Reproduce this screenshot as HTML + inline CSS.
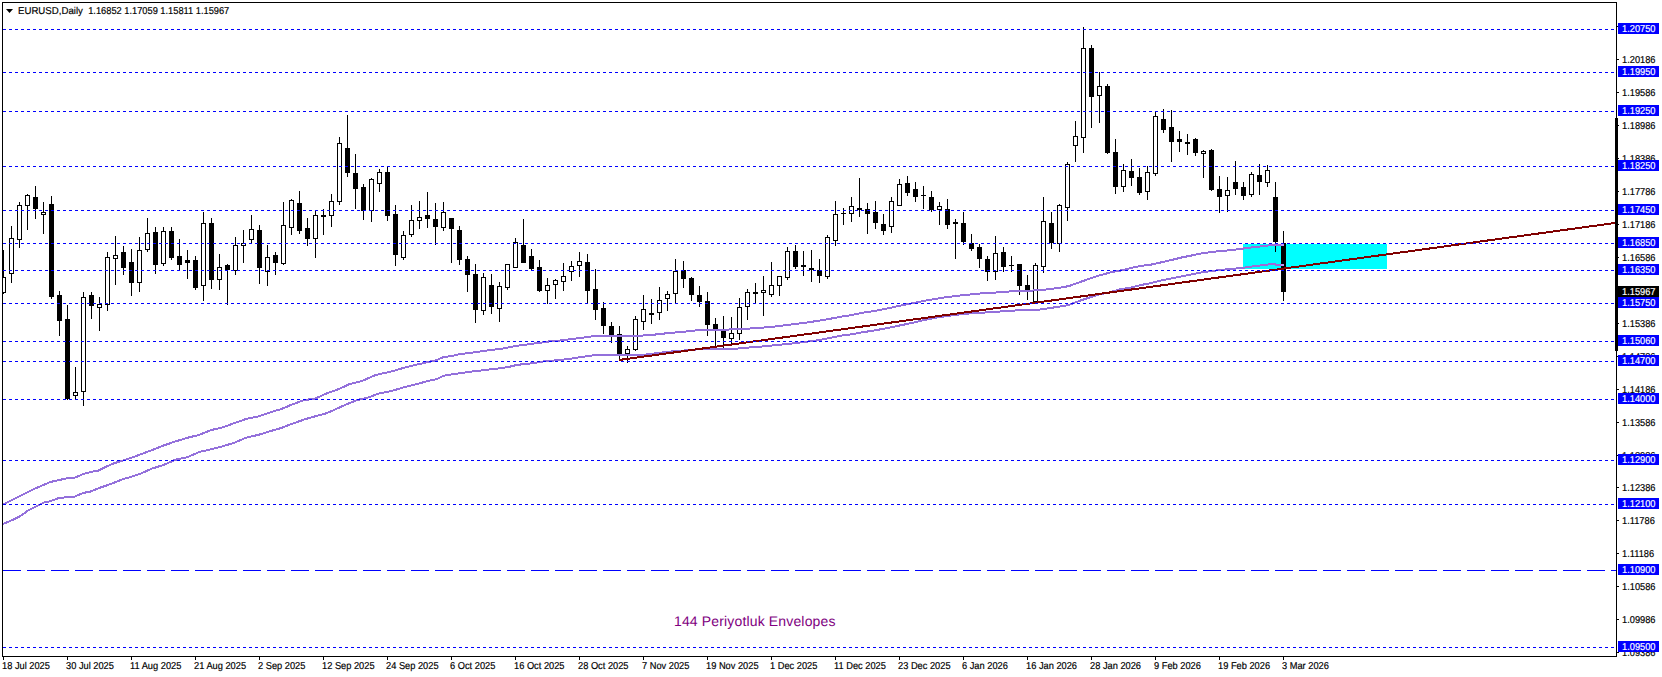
<!DOCTYPE html>
<html><head><meta charset="utf-8"><title>EURUSD Daily</title>
<style>
html,body{margin:0;padding:0;background:#fff;width:1662px;height:677px;overflow:hidden}
svg{display:block}
text{font-family:"Liberation Sans", sans-serif;text-rendering:geometricPrecision}
</style></head><body>
<svg width="1662" height="677" viewBox="0 0 1662 677">
<rect x="0" y="0" width="1662" height="677" fill="#fff"/>
<defs><clipPath id="cp"><rect x="3" y="3" width="1613" height="653"/></clipPath></defs>
<g clip-path="url(#cp)">
<rect x="1243" y="244" width="144" height="25" fill="#0ff"/>
<g fill="#000" shape-rendering="crispEdges"><rect x="3" y="250" width="1" height="44"/><rect x="1" y="277" width="5" height="16"/><rect x="2" y="278" width="3" height="14" fill="#fff"/><rect x="11" y="226" width="1" height="57"/><rect x="9" y="238" width="5" height="36"/><rect x="10" y="239" width="3" height="34" fill="#fff"/><rect x="19" y="202" width="1" height="46"/><rect x="17" y="205" width="5" height="35"/><rect x="18" y="206" width="3" height="33" fill="#fff"/><rect x="27" y="194" width="1" height="36"/><rect x="25" y="195" width="5" height="11"/><rect x="26" y="196" width="3" height="9" fill="#fff"/><rect x="35" y="186" width="1" height="33"/><rect x="33" y="197" width="5" height="12"/><rect x="43" y="202" width="1" height="32"/><rect x="41" y="212" width="5" height="3"/><rect x="42" y="213" width="3" height="1" fill="#fff"/><rect x="51" y="196" width="1" height="103"/><rect x="49" y="204" width="5" height="93"/><rect x="59" y="291" width="1" height="45"/><rect x="57" y="295" width="5" height="26"/><rect x="67" y="305" width="1" height="95"/><rect x="65" y="319" width="5" height="80"/><rect x="75" y="367" width="1" height="33"/><rect x="73" y="392" width="5" height="4"/><rect x="74" y="393" width="3" height="2" fill="#fff"/><rect x="83" y="292" width="1" height="114"/><rect x="81" y="297" width="5" height="95"/><rect x="82" y="298" width="3" height="93" fill="#fff"/><rect x="91" y="292" width="1" height="27"/><rect x="89" y="295" width="5" height="11"/><rect x="99" y="297" width="1" height="34"/><rect x="97" y="304" width="5" height="4"/><rect x="98" y="305" width="3" height="2" fill="#fff"/><rect x="107" y="252" width="1" height="59"/><rect x="105" y="257" width="5" height="48"/><rect x="106" y="258" width="3" height="46" fill="#fff"/><rect x="115" y="236" width="1" height="49"/><rect x="113" y="255" width="5" height="4"/><rect x="114" y="256" width="3" height="2" fill="#fff"/><rect x="123" y="246" width="1" height="29"/><rect x="121" y="252" width="5" height="16"/><rect x="131" y="249" width="1" height="47"/><rect x="129" y="262" width="5" height="21"/><rect x="139" y="237" width="1" height="55"/><rect x="137" y="250" width="5" height="33"/><rect x="138" y="251" width="3" height="31" fill="#fff"/><rect x="147" y="218" width="1" height="34"/><rect x="145" y="233" width="5" height="17"/><rect x="146" y="234" width="3" height="15" fill="#fff"/><rect x="155" y="227" width="1" height="47"/><rect x="153" y="232" width="5" height="33"/><rect x="163" y="227" width="1" height="39"/><rect x="161" y="231" width="5" height="33"/><rect x="162" y="232" width="3" height="31" fill="#fff"/><rect x="171" y="227" width="1" height="33"/><rect x="169" y="231" width="5" height="27"/><rect x="179" y="239" width="1" height="32"/><rect x="177" y="256" width="5" height="9"/><rect x="187" y="250" width="1" height="29"/><rect x="185" y="260" width="5" height="3"/><rect x="195" y="256" width="1" height="34"/><rect x="193" y="260" width="5" height="28"/><rect x="203" y="212" width="1" height="89"/><rect x="201" y="223" width="5" height="63"/><rect x="202" y="224" width="3" height="61" fill="#fff"/><rect x="211" y="218" width="1" height="71"/><rect x="209" y="223" width="5" height="57"/><rect x="219" y="254" width="1" height="36"/><rect x="217" y="267" width="5" height="13"/><rect x="218" y="268" width="3" height="11" fill="#fff"/><rect x="227" y="264" width="1" height="41"/><rect x="225" y="265" width="5" height="5"/><rect x="235" y="237" width="1" height="38"/><rect x="233" y="245" width="5" height="26"/><rect x="234" y="246" width="3" height="24" fill="#fff"/><rect x="243" y="230" width="1" height="33"/><rect x="241" y="243" width="5" height="3"/><rect x="242" y="244" width="3" height="1" fill="#fff"/><rect x="251" y="215" width="1" height="29"/><rect x="249" y="229" width="5" height="11"/><rect x="250" y="230" width="3" height="9" fill="#fff"/><rect x="259" y="225" width="1" height="59"/><rect x="257" y="230" width="5" height="38"/><rect x="267" y="245" width="1" height="41"/><rect x="265" y="257" width="5" height="15"/><rect x="266" y="258" width="3" height="13" fill="#fff"/><rect x="275" y="252" width="1" height="23"/><rect x="273" y="255" width="5" height="8"/><rect x="283" y="202" width="1" height="63"/><rect x="281" y="225" width="5" height="39"/><rect x="282" y="226" width="3" height="37" fill="#fff"/><rect x="291" y="199" width="1" height="36"/><rect x="289" y="200" width="5" height="28"/><rect x="290" y="201" width="3" height="26" fill="#fff"/><rect x="299" y="191" width="1" height="43"/><rect x="297" y="203" width="5" height="28"/><rect x="307" y="218" width="1" height="28"/><rect x="305" y="228" width="5" height="11"/><rect x="315" y="210" width="1" height="48"/><rect x="313" y="215" width="5" height="24"/><rect x="314" y="216" width="3" height="22" fill="#fff"/><rect x="323" y="209" width="1" height="26"/><rect x="321" y="215" width="5" height="2"/><rect x="331" y="194" width="1" height="33"/><rect x="329" y="201" width="5" height="15"/><rect x="330" y="202" width="3" height="13" fill="#fff"/><rect x="339" y="137" width="1" height="68"/><rect x="337" y="143" width="5" height="59"/><rect x="338" y="144" width="3" height="57" fill="#fff"/><rect x="347" y="115" width="1" height="62"/><rect x="345" y="148" width="5" height="25"/><rect x="355" y="154" width="1" height="55"/><rect x="353" y="173" width="5" height="16"/><rect x="363" y="184" width="1" height="36"/><rect x="361" y="187" width="5" height="24"/><rect x="371" y="178" width="1" height="44"/><rect x="369" y="179" width="5" height="32"/><rect x="370" y="180" width="3" height="30" fill="#fff"/><rect x="379" y="169" width="1" height="23"/><rect x="377" y="172" width="5" height="12"/><rect x="378" y="173" width="3" height="10" fill="#fff"/><rect x="387" y="166" width="1" height="55"/><rect x="385" y="172" width="5" height="44"/><rect x="395" y="205" width="1" height="61"/><rect x="393" y="214" width="5" height="41"/><rect x="403" y="231" width="1" height="29"/><rect x="401" y="235" width="5" height="23"/><rect x="402" y="236" width="3" height="21" fill="#fff"/><rect x="411" y="205" width="1" height="32"/><rect x="409" y="220" width="5" height="15"/><rect x="410" y="221" width="3" height="13" fill="#fff"/><rect x="419" y="201" width="1" height="28"/><rect x="417" y="217" width="5" height="4"/><rect x="418" y="218" width="3" height="2" fill="#fff"/><rect x="427" y="192" width="1" height="36"/><rect x="425" y="215" width="5" height="4"/><rect x="435" y="203" width="1" height="42"/><rect x="433" y="219" width="5" height="8"/><rect x="443" y="202" width="1" height="29"/><rect x="441" y="212" width="5" height="16"/><rect x="442" y="213" width="3" height="14" fill="#fff"/><rect x="451" y="218" width="1" height="45"/><rect x="449" y="218" width="5" height="11"/><rect x="459" y="226" width="1" height="39"/><rect x="457" y="230" width="5" height="30"/><rect x="467" y="256" width="1" height="36"/><rect x="465" y="259" width="5" height="16"/><rect x="475" y="264" width="1" height="59"/><rect x="473" y="274" width="5" height="36"/><rect x="483" y="273" width="1" height="42"/><rect x="481" y="277" width="5" height="34"/><rect x="482" y="278" width="3" height="32" fill="#fff"/><rect x="491" y="274" width="1" height="40"/><rect x="489" y="285" width="5" height="22"/><rect x="499" y="282" width="1" height="40"/><rect x="497" y="286" width="5" height="23"/><rect x="498" y="287" width="3" height="21" fill="#fff"/><rect x="507" y="264" width="1" height="26"/><rect x="505" y="264" width="5" height="24"/><rect x="506" y="265" width="3" height="22" fill="#fff"/><rect x="515" y="238" width="1" height="30"/><rect x="513" y="242" width="5" height="26"/><rect x="514" y="243" width="3" height="24" fill="#fff"/><rect x="523" y="219" width="1" height="44"/><rect x="521" y="245" width="5" height="18"/><rect x="531" y="249" width="1" height="22"/><rect x="529" y="256" width="5" height="13"/><rect x="539" y="260" width="1" height="32"/><rect x="537" y="267" width="5" height="24"/><rect x="547" y="278" width="1" height="26"/><rect x="545" y="285" width="5" height="6"/><rect x="546" y="286" width="3" height="4" fill="#fff"/><rect x="555" y="279" width="1" height="20"/><rect x="553" y="280" width="5" height="5"/><rect x="554" y="281" width="3" height="3" fill="#fff"/><rect x="563" y="263" width="1" height="28"/><rect x="561" y="276" width="5" height="6"/><rect x="562" y="277" width="3" height="4" fill="#fff"/><rect x="571" y="261" width="1" height="20"/><rect x="569" y="266" width="5" height="6"/><rect x="570" y="267" width="3" height="4" fill="#fff"/><rect x="579" y="252" width="1" height="25"/><rect x="577" y="261" width="5" height="5"/><rect x="578" y="262" width="3" height="3" fill="#fff"/><rect x="587" y="254" width="1" height="49"/><rect x="585" y="262" width="5" height="29"/><rect x="595" y="269" width="1" height="51"/><rect x="593" y="289" width="5" height="21"/><rect x="603" y="302" width="1" height="32"/><rect x="601" y="308" width="5" height="18"/><rect x="611" y="322" width="1" height="21"/><rect x="609" y="326" width="5" height="9"/><rect x="619" y="326" width="1" height="34"/><rect x="617" y="334" width="5" height="20"/><rect x="627" y="346" width="1" height="17"/><rect x="625" y="349" width="5" height="5"/><rect x="626" y="350" width="3" height="3" fill="#fff"/><rect x="635" y="316" width="1" height="35"/><rect x="633" y="319" width="5" height="31"/><rect x="634" y="320" width="3" height="29" fill="#fff"/><rect x="643" y="295" width="1" height="35"/><rect x="641" y="309" width="5" height="13"/><rect x="642" y="310" width="3" height="11" fill="#fff"/><rect x="651" y="299" width="1" height="25"/><rect x="649" y="313" width="5" height="2"/><rect x="659" y="287" width="1" height="33"/><rect x="657" y="300" width="5" height="13"/><rect x="658" y="301" width="3" height="11" fill="#fff"/><rect x="667" y="291" width="1" height="20"/><rect x="665" y="294" width="5" height="5"/><rect x="666" y="295" width="3" height="3" fill="#fff"/><rect x="675" y="259" width="1" height="44"/><rect x="673" y="271" width="5" height="23"/><rect x="674" y="272" width="3" height="21" fill="#fff"/><rect x="683" y="261" width="1" height="27"/><rect x="681" y="270" width="5" height="9"/><rect x="691" y="277" width="1" height="24"/><rect x="689" y="278" width="5" height="17"/><rect x="699" y="286" width="1" height="21"/><rect x="697" y="295" width="5" height="7"/><rect x="707" y="292" width="1" height="44"/><rect x="705" y="301" width="5" height="24"/><rect x="715" y="318" width="1" height="31"/><rect x="713" y="324" width="5" height="5"/><rect x="723" y="316" width="1" height="32"/><rect x="721" y="331" width="5" height="7"/><rect x="731" y="317" width="1" height="27"/><rect x="729" y="333" width="5" height="6"/><rect x="730" y="334" width="3" height="4" fill="#fff"/><rect x="739" y="298" width="1" height="42"/><rect x="737" y="307" width="5" height="27"/><rect x="738" y="308" width="3" height="25" fill="#fff"/><rect x="747" y="289" width="1" height="31"/><rect x="745" y="292" width="5" height="15"/><rect x="746" y="293" width="3" height="13" fill="#fff"/><rect x="755" y="283" width="1" height="20"/><rect x="753" y="292" width="5" height="2"/><rect x="763" y="276" width="1" height="40"/><rect x="761" y="290" width="5" height="3"/><rect x="762" y="291" width="3" height="1" fill="#fff"/><rect x="771" y="262" width="1" height="35"/><rect x="769" y="285" width="5" height="10"/><rect x="770" y="286" width="3" height="8" fill="#fff"/><rect x="779" y="276" width="1" height="20"/><rect x="777" y="276" width="5" height="10"/><rect x="778" y="277" width="3" height="8" fill="#fff"/><rect x="787" y="247" width="1" height="33"/><rect x="785" y="251" width="5" height="27"/><rect x="786" y="252" width="3" height="25" fill="#fff"/><rect x="795" y="245" width="1" height="24"/><rect x="793" y="251" width="5" height="16"/><rect x="803" y="251" width="1" height="25"/><rect x="801" y="265" width="5" height="2"/><rect x="811" y="250" width="1" height="32"/><rect x="809" y="268" width="5" height="2"/><rect x="819" y="259" width="1" height="24"/><rect x="817" y="270" width="5" height="6"/><rect x="827" y="235" width="1" height="44"/><rect x="825" y="237" width="5" height="40"/><rect x="826" y="238" width="3" height="38" fill="#fff"/><rect x="835" y="201" width="1" height="45"/><rect x="833" y="214" width="5" height="27"/><rect x="834" y="215" width="3" height="25" fill="#fff"/><rect x="843" y="208" width="1" height="17"/><rect x="841" y="213" width="5" height="1"/><rect x="851" y="197" width="1" height="25"/><rect x="849" y="206" width="5" height="8"/><rect x="850" y="207" width="3" height="6" fill="#fff"/><rect x="859" y="178" width="1" height="39"/><rect x="857" y="208" width="5" height="2"/><rect x="867" y="203" width="1" height="31"/><rect x="865" y="209" width="5" height="5"/><rect x="875" y="201" width="1" height="28"/><rect x="873" y="212" width="5" height="11"/><rect x="883" y="214" width="1" height="21"/><rect x="881" y="224" width="5" height="7"/><rect x="891" y="197" width="1" height="36"/><rect x="889" y="201" width="5" height="26"/><rect x="890" y="202" width="3" height="24" fill="#fff"/><rect x="899" y="179" width="1" height="27"/><rect x="897" y="184" width="5" height="22"/><rect x="898" y="185" width="3" height="20" fill="#fff"/><rect x="907" y="176" width="1" height="20"/><rect x="905" y="183" width="5" height="10"/><rect x="915" y="182" width="1" height="20"/><rect x="913" y="189" width="5" height="8"/><rect x="923" y="186" width="1" height="23"/><rect x="921" y="195" width="5" height="1"/><rect x="931" y="191" width="1" height="21"/><rect x="929" y="197" width="5" height="13"/><rect x="939" y="202" width="1" height="23"/><rect x="937" y="206" width="5" height="4"/><rect x="938" y="207" width="3" height="2" fill="#fff"/><rect x="947" y="199" width="1" height="30"/><rect x="945" y="209" width="5" height="16"/><rect x="955" y="219" width="1" height="40"/><rect x="953" y="222" width="5" height="2"/><rect x="963" y="212" width="1" height="33"/><rect x="961" y="223" width="5" height="19"/><rect x="971" y="234" width="1" height="17"/><rect x="969" y="243" width="5" height="6"/><rect x="979" y="244" width="1" height="24"/><rect x="977" y="247" width="5" height="12"/><rect x="987" y="256" width="1" height="25"/><rect x="985" y="259" width="5" height="13"/><rect x="995" y="236" width="1" height="44"/><rect x="993" y="253" width="5" height="19"/><rect x="994" y="254" width="3" height="17" fill="#fff"/><rect x="1003" y="247" width="1" height="25"/><rect x="1001" y="252" width="5" height="15"/><rect x="1011" y="256" width="1" height="16"/><rect x="1009" y="265" width="5" height="1"/><rect x="1019" y="264" width="1" height="31"/><rect x="1017" y="264" width="5" height="22"/><rect x="1027" y="275" width="1" height="25"/><rect x="1025" y="285" width="5" height="5"/><rect x="1035" y="263" width="1" height="39"/><rect x="1033" y="265" width="5" height="37"/><rect x="1034" y="266" width="3" height="35" fill="#fff"/><rect x="1043" y="197" width="1" height="76"/><rect x="1041" y="221" width="5" height="46"/><rect x="1042" y="222" width="3" height="44" fill="#fff"/><rect x="1051" y="212" width="1" height="37"/><rect x="1049" y="223" width="5" height="20"/><rect x="1059" y="204" width="1" height="48"/><rect x="1057" y="205" width="5" height="39"/><rect x="1058" y="206" width="3" height="37" fill="#fff"/><rect x="1067" y="162" width="1" height="59"/><rect x="1065" y="164" width="5" height="44"/><rect x="1066" y="165" width="3" height="42" fill="#fff"/><rect x="1075" y="121" width="1" height="41"/><rect x="1073" y="136" width="5" height="10"/><rect x="1074" y="137" width="3" height="8" fill="#fff"/><rect x="1083" y="27" width="1" height="126"/><rect x="1081" y="48" width="5" height="90"/><rect x="1082" y="49" width="3" height="88" fill="#fff"/><rect x="1091" y="45" width="1" height="83"/><rect x="1089" y="48" width="5" height="49"/><rect x="1099" y="72" width="1" height="51"/><rect x="1097" y="86" width="5" height="10"/><rect x="1098" y="87" width="3" height="8" fill="#fff"/><rect x="1107" y="84" width="1" height="70"/><rect x="1105" y="86" width="5" height="67"/><rect x="1115" y="139" width="1" height="55"/><rect x="1113" y="152" width="5" height="35"/><rect x="1123" y="164" width="1" height="28"/><rect x="1121" y="170" width="5" height="17"/><rect x="1122" y="171" width="3" height="15" fill="#fff"/><rect x="1131" y="159" width="1" height="27"/><rect x="1129" y="171" width="5" height="7"/><rect x="1139" y="168" width="1" height="27"/><rect x="1137" y="177" width="5" height="16"/><rect x="1147" y="166" width="1" height="34"/><rect x="1145" y="172" width="5" height="20"/><rect x="1146" y="173" width="3" height="18" fill="#fff"/><rect x="1155" y="111" width="1" height="65"/><rect x="1153" y="116" width="5" height="58"/><rect x="1154" y="117" width="3" height="56" fill="#fff"/><rect x="1163" y="109" width="1" height="24"/><rect x="1161" y="119" width="5" height="11"/><rect x="1171" y="110" width="1" height="52"/><rect x="1169" y="127" width="5" height="15"/><rect x="1179" y="131" width="1" height="21"/><rect x="1177" y="139" width="5" height="3"/><rect x="1187" y="134" width="1" height="21"/><rect x="1185" y="142" width="5" height="2"/><rect x="1195" y="138" width="1" height="18"/><rect x="1193" y="139" width="5" height="14"/><rect x="1203" y="150" width="1" height="28"/><rect x="1201" y="151" width="5" height="3"/><rect x="1202" y="152" width="3" height="1" fill="#fff"/><rect x="1211" y="149" width="1" height="42"/><rect x="1209" y="150" width="5" height="40"/><rect x="1219" y="176" width="1" height="37"/><rect x="1217" y="189" width="5" height="8"/><rect x="1227" y="177" width="1" height="35"/><rect x="1225" y="190" width="5" height="6"/><rect x="1226" y="191" width="3" height="4" fill="#fff"/><rect x="1235" y="161" width="1" height="34"/><rect x="1233" y="182" width="5" height="7"/><rect x="1243" y="182" width="1" height="18"/><rect x="1241" y="187" width="5" height="9"/><rect x="1251" y="172" width="1" height="25"/><rect x="1249" y="174" width="5" height="21"/><rect x="1250" y="175" width="3" height="19" fill="#fff"/><rect x="1259" y="164" width="1" height="31"/><rect x="1257" y="175" width="5" height="7"/><rect x="1267" y="165" width="1" height="22"/><rect x="1265" y="170" width="5" height="13"/><rect x="1266" y="171" width="3" height="11" fill="#fff"/><rect x="1275" y="182" width="1" height="70"/><rect x="1273" y="197" width="5" height="45"/><rect x="1283" y="231" width="1" height="70"/><rect x="1281" y="243" width="5" height="49"/></g>
<polyline points="3.0,504.4 11.8,500.2 23.6,494.3 35.5,488.4 44.9,484.3 50.8,481.9 59.1,480.1 66.2,478.4 74.5,477.8 82.7,474.2 91.0,471.9 98.1,470.7 106.4,466.5 114.7,463.0 122.9,460.6 130.0,458.3 140.0,454.6 151.8,450.2 163.6,445.5 175.5,441.4 187.3,437.8 199.1,434.9 210.9,430.1 222.7,427.4 234.6,423.0 246.4,418.9 258.2,416.5 270.0,412.4 281.8,408.9 291.8,404.6 303.6,400.2 315.5,398.5 327.3,393.1 339.1,389.0 348.6,384.5 362.7,380.7 374.6,375.4 380.5,373.9 392.3,371.3 404.1,367.7 415.9,364.8 428.3,362.0 436.5,360.2 443.6,356.9 451.9,356.1 460.2,354.0 468.5,353.1 475.6,352.2 483.8,351.0 492.1,349.8 500.4,349.0 508.7,347.4 516.9,345.8 525.2,344.8 533.5,343.6 541.7,342.5 550.0,341.3 558.3,340.7 571.8,339.0 583.6,337.6 595.5,335.8 607.3,335.5 642.7,335.5 654.6,334.6 666.4,333.3 678.2,332.2 690.0,331.1 700.0,329.9 723.6,329.6 735.5,329.4 747.3,328.7 759.1,327.9 770.9,327.0 782.7,325.5 794.6,324.0 806.4,322.6 818.2,320.8 830.0,318.8 841.8,316.6 851.8,315.0 863.6,312.6 875.5,310.8 887.3,308.5 899.1,305.9 910.9,303.5 922.7,301.1 934.6,299.0 946.4,297.2 958.2,295.7 970.0,294.5 981.8,293.3 991.8,292.8 1003.6,292.0 1015.5,291.0 1027.3,290.8 1039.1,290.2 1050.9,289.0 1062.7,287.2 1068.7,286.1 1074.6,284.0 1086.4,279.8 1098.2,275.8 1110.0,272.5 1121.0,270.4 1130.2,268.2 1140.5,265.9 1150.7,264.7 1160.9,262.4 1171.1,260.1 1181.4,257.5 1191.6,255.5 1201.8,253.4 1212.1,251.9 1222.3,250.9 1232.5,250.0 1239.5,249.0 1247.5,248.0 1255.5,247.0 1264.0,246.0 1272.0,245.0 1284.0,245.0" fill="none" stroke="#9370db" stroke-width="2" shape-rendering="crispEdges"/>
<polyline points="3.0,523.9 11.8,520.3 20.1,516.2 28.4,510.3 35.5,506.7 43.7,502.6 50.8,501.1 59.1,497.9 66.2,497.3 74.5,496.7 82.7,493.1 91.0,491.4 98.1,488.4 106.4,485.5 114.7,482.5 122.9,479.0 130.0,477.2 140.0,473.9 151.8,468.6 163.6,465.0 175.5,459.7 187.3,457.3 199.1,452.0 210.9,449.4 222.7,446.3 234.6,442.6 246.4,437.6 258.2,434.9 270.0,431.3 281.8,427.8 291.8,423.9 303.6,419.7 315.5,416.2 324.9,413.8 333.2,410.3 345.0,405.0 356.8,400.2 368.7,397.3 378.1,393.7 392.3,390.8 404.1,387.2 415.9,384.3 428.3,380.9 436.5,379.1 443.6,375.8 451.9,374.4 460.2,373.2 468.5,372.0 475.6,371.1 483.8,370.2 492.1,369.1 500.4,368.2 508.7,367.0 516.9,364.9 525.2,364.0 533.5,363.1 541.7,361.6 550.0,360.8 558.3,360.2 571.8,358.5 583.6,356.7 595.5,355.0 607.3,355.0 642.7,354.9 654.6,353.5 666.4,352.0 678.2,350.8 690.0,350.2 700.0,349.1 735.5,348.8 747.3,347.6 759.1,346.8 770.9,345.6 782.7,344.4 794.6,343.2 806.4,341.7 818.2,340.3 830.0,337.9 841.8,335.6 851.8,334.2 863.6,332.1 875.5,330.3 887.3,328.0 899.1,325.6 910.9,323.2 922.7,320.3 934.6,317.9 946.4,316.1 958.2,314.6 970.0,313.4 981.8,312.6 991.8,312.3 1003.6,311.2 1015.5,310.5 1027.3,310.0 1039.1,309.7 1050.9,307.9 1062.7,306.1 1068.7,305.0 1074.6,302.6 1086.4,298.5 1098.2,294.7 1110.0,292.3 1120.0,289.2 1130.2,287.7 1140.5,285.1 1150.7,283.1 1160.9,280.5 1171.1,278.5 1181.4,276.4 1191.6,274.4 1201.8,272.3 1212.1,271.0 1222.3,269.8 1232.5,268.8 1241.0,268.0 1249.0,267.0 1255.5,266.0 1264.0,265.0 1271.8,264.0 1275.0,264.0 1276.5,265.0 1284.0,265.0" fill="none" stroke="#9370db" stroke-width="2" shape-rendering="crispEdges"/>
<clipPath id="cbox"><rect x="1243" y="244" width="144" height="25"/></clipPath><clipPath id="cbody"><rect x="1281" y="243" width="5" height="49"/></clipPath><g clip-path="url(#cbox)" fill="none" stroke="#a06ad8" stroke-width="2" shape-rendering="crispEdges"><polyline points="3.0,504.4 11.8,500.2 23.6,494.3 35.5,488.4 44.9,484.3 50.8,481.9 59.1,480.1 66.2,478.4 74.5,477.8 82.7,474.2 91.0,471.9 98.1,470.7 106.4,466.5 114.7,463.0 122.9,460.6 130.0,458.3 140.0,454.6 151.8,450.2 163.6,445.5 175.5,441.4 187.3,437.8 199.1,434.9 210.9,430.1 222.7,427.4 234.6,423.0 246.4,418.9 258.2,416.5 270.0,412.4 281.8,408.9 291.8,404.6 303.6,400.2 315.5,398.5 327.3,393.1 339.1,389.0 348.6,384.5 362.7,380.7 374.6,375.4 380.5,373.9 392.3,371.3 404.1,367.7 415.9,364.8 428.3,362.0 436.5,360.2 443.6,356.9 451.9,356.1 460.2,354.0 468.5,353.1 475.6,352.2 483.8,351.0 492.1,349.8 500.4,349.0 508.7,347.4 516.9,345.8 525.2,344.8 533.5,343.6 541.7,342.5 550.0,341.3 558.3,340.7 571.8,339.0 583.6,337.6 595.5,335.8 607.3,335.5 642.7,335.5 654.6,334.6 666.4,333.3 678.2,332.2 690.0,331.1 700.0,329.9 723.6,329.6 735.5,329.4 747.3,328.7 759.1,327.9 770.9,327.0 782.7,325.5 794.6,324.0 806.4,322.6 818.2,320.8 830.0,318.8 841.8,316.6 851.8,315.0 863.6,312.6 875.5,310.8 887.3,308.5 899.1,305.9 910.9,303.5 922.7,301.1 934.6,299.0 946.4,297.2 958.2,295.7 970.0,294.5 981.8,293.3 991.8,292.8 1003.6,292.0 1015.5,291.0 1027.3,290.8 1039.1,290.2 1050.9,289.0 1062.7,287.2 1068.7,286.1 1074.6,284.0 1086.4,279.8 1098.2,275.8 1110.0,272.5 1121.0,270.4 1130.2,268.2 1140.5,265.9 1150.7,264.7 1160.9,262.4 1171.1,260.1 1181.4,257.5 1191.6,255.5 1201.8,253.4 1212.1,251.9 1222.3,250.9 1232.5,250.0 1239.5,249.0 1247.5,248.0 1255.5,247.0 1264.0,246.0 1272.0,245.0 1284.0,245.0"/><polyline points="3.0,523.9 11.8,520.3 20.1,516.2 28.4,510.3 35.5,506.7 43.7,502.6 50.8,501.1 59.1,497.9 66.2,497.3 74.5,496.7 82.7,493.1 91.0,491.4 98.1,488.4 106.4,485.5 114.7,482.5 122.9,479.0 130.0,477.2 140.0,473.9 151.8,468.6 163.6,465.0 175.5,459.7 187.3,457.3 199.1,452.0 210.9,449.4 222.7,446.3 234.6,442.6 246.4,437.6 258.2,434.9 270.0,431.3 281.8,427.8 291.8,423.9 303.6,419.7 315.5,416.2 324.9,413.8 333.2,410.3 345.0,405.0 356.8,400.2 368.7,397.3 378.1,393.7 392.3,390.8 404.1,387.2 415.9,384.3 428.3,380.9 436.5,379.1 443.6,375.8 451.9,374.4 460.2,373.2 468.5,372.0 475.6,371.1 483.8,370.2 492.1,369.1 500.4,368.2 508.7,367.0 516.9,364.9 525.2,364.0 533.5,363.1 541.7,361.6 550.0,360.8 558.3,360.2 571.8,358.5 583.6,356.7 595.5,355.0 607.3,355.0 642.7,354.9 654.6,353.5 666.4,352.0 678.2,350.8 690.0,350.2 700.0,349.1 735.5,348.8 747.3,347.6 759.1,346.8 770.9,345.6 782.7,344.4 794.6,343.2 806.4,341.7 818.2,340.3 830.0,337.9 841.8,335.6 851.8,334.2 863.6,332.1 875.5,330.3 887.3,328.0 899.1,325.6 910.9,323.2 922.7,320.3 934.6,317.9 946.4,316.1 958.2,314.6 970.0,313.4 981.8,312.6 991.8,312.3 1003.6,311.2 1015.5,310.5 1027.3,310.0 1039.1,309.7 1050.9,307.9 1062.7,306.1 1068.7,305.0 1074.6,302.6 1086.4,298.5 1098.2,294.7 1110.0,292.3 1120.0,289.2 1130.2,287.7 1140.5,285.1 1150.7,283.1 1160.9,280.5 1171.1,278.5 1181.4,276.4 1191.6,274.4 1201.8,272.3 1212.1,271.0 1222.3,269.8 1232.5,268.8 1241.0,268.0 1249.0,267.0 1255.5,266.0 1264.0,265.0 1271.8,264.0 1275.0,264.0 1276.5,265.0 1284.0,265.0"/></g>
<g clip-path="url(#cbody)" fill="none" stroke="#c096f8" stroke-width="2" shape-rendering="crispEdges"><polyline points="3.0,504.4 11.8,500.2 23.6,494.3 35.5,488.4 44.9,484.3 50.8,481.9 59.1,480.1 66.2,478.4 74.5,477.8 82.7,474.2 91.0,471.9 98.1,470.7 106.4,466.5 114.7,463.0 122.9,460.6 130.0,458.3 140.0,454.6 151.8,450.2 163.6,445.5 175.5,441.4 187.3,437.8 199.1,434.9 210.9,430.1 222.7,427.4 234.6,423.0 246.4,418.9 258.2,416.5 270.0,412.4 281.8,408.9 291.8,404.6 303.6,400.2 315.5,398.5 327.3,393.1 339.1,389.0 348.6,384.5 362.7,380.7 374.6,375.4 380.5,373.9 392.3,371.3 404.1,367.7 415.9,364.8 428.3,362.0 436.5,360.2 443.6,356.9 451.9,356.1 460.2,354.0 468.5,353.1 475.6,352.2 483.8,351.0 492.1,349.8 500.4,349.0 508.7,347.4 516.9,345.8 525.2,344.8 533.5,343.6 541.7,342.5 550.0,341.3 558.3,340.7 571.8,339.0 583.6,337.6 595.5,335.8 607.3,335.5 642.7,335.5 654.6,334.6 666.4,333.3 678.2,332.2 690.0,331.1 700.0,329.9 723.6,329.6 735.5,329.4 747.3,328.7 759.1,327.9 770.9,327.0 782.7,325.5 794.6,324.0 806.4,322.6 818.2,320.8 830.0,318.8 841.8,316.6 851.8,315.0 863.6,312.6 875.5,310.8 887.3,308.5 899.1,305.9 910.9,303.5 922.7,301.1 934.6,299.0 946.4,297.2 958.2,295.7 970.0,294.5 981.8,293.3 991.8,292.8 1003.6,292.0 1015.5,291.0 1027.3,290.8 1039.1,290.2 1050.9,289.0 1062.7,287.2 1068.7,286.1 1074.6,284.0 1086.4,279.8 1098.2,275.8 1110.0,272.5 1121.0,270.4 1130.2,268.2 1140.5,265.9 1150.7,264.7 1160.9,262.4 1171.1,260.1 1181.4,257.5 1191.6,255.5 1201.8,253.4 1212.1,251.9 1222.3,250.9 1232.5,250.0 1239.5,249.0 1247.5,248.0 1255.5,247.0 1264.0,246.0 1272.0,245.0 1284.0,245.0"/><polyline points="3.0,523.9 11.8,520.3 20.1,516.2 28.4,510.3 35.5,506.7 43.7,502.6 50.8,501.1 59.1,497.9 66.2,497.3 74.5,496.7 82.7,493.1 91.0,491.4 98.1,488.4 106.4,485.5 114.7,482.5 122.9,479.0 130.0,477.2 140.0,473.9 151.8,468.6 163.6,465.0 175.5,459.7 187.3,457.3 199.1,452.0 210.9,449.4 222.7,446.3 234.6,442.6 246.4,437.6 258.2,434.9 270.0,431.3 281.8,427.8 291.8,423.9 303.6,419.7 315.5,416.2 324.9,413.8 333.2,410.3 345.0,405.0 356.8,400.2 368.7,397.3 378.1,393.7 392.3,390.8 404.1,387.2 415.9,384.3 428.3,380.9 436.5,379.1 443.6,375.8 451.9,374.4 460.2,373.2 468.5,372.0 475.6,371.1 483.8,370.2 492.1,369.1 500.4,368.2 508.7,367.0 516.9,364.9 525.2,364.0 533.5,363.1 541.7,361.6 550.0,360.8 558.3,360.2 571.8,358.5 583.6,356.7 595.5,355.0 607.3,355.0 642.7,354.9 654.6,353.5 666.4,352.0 678.2,350.8 690.0,350.2 700.0,349.1 735.5,348.8 747.3,347.6 759.1,346.8 770.9,345.6 782.7,344.4 794.6,343.2 806.4,341.7 818.2,340.3 830.0,337.9 841.8,335.6 851.8,334.2 863.6,332.1 875.5,330.3 887.3,328.0 899.1,325.6 910.9,323.2 922.7,320.3 934.6,317.9 946.4,316.1 958.2,314.6 970.0,313.4 981.8,312.6 991.8,312.3 1003.6,311.2 1015.5,310.5 1027.3,310.0 1039.1,309.7 1050.9,307.9 1062.7,306.1 1068.7,305.0 1074.6,302.6 1086.4,298.5 1098.2,294.7 1110.0,292.3 1120.0,289.2 1130.2,287.7 1140.5,285.1 1150.7,283.1 1160.9,280.5 1171.1,278.5 1181.4,276.4 1191.6,274.4 1201.8,272.3 1212.1,271.0 1222.3,269.8 1232.5,268.8 1241.0,268.0 1249.0,267.0 1255.5,266.0 1264.0,265.0 1271.8,264.0 1275.0,264.0 1276.5,265.0 1284.0,265.0"/></g>
<path d="M619 360L1617 222.7" stroke="#800000" stroke-width="2" fill="none" shape-rendering="crispEdges"/>
<path d="M3 29.5H1616" stroke="#00f" stroke-width="1" stroke-dasharray="3 3" shape-rendering="crispEdges"/>
<path d="M3 72.5H1616" stroke="#00f" stroke-width="1" stroke-dasharray="3 3" shape-rendering="crispEdges"/>
<path d="M3 111.5H1616" stroke="#00f" stroke-width="1" stroke-dasharray="3 3" shape-rendering="crispEdges"/>
<path d="M3 166.5H1616" stroke="#00f" stroke-width="1" stroke-dasharray="3 3" shape-rendering="crispEdges"/>
<path d="M3 210.5H1616" stroke="#00f" stroke-width="1" stroke-dasharray="3 3" shape-rendering="crispEdges"/>
<path d="M3 243.5H1616" stroke="#00f" stroke-width="1" stroke-dasharray="3 3" shape-rendering="crispEdges"/>
<path d="M3 270.5H1616" stroke="#00f" stroke-width="1" stroke-dasharray="3 3" shape-rendering="crispEdges"/>
<path d="M3 303.5H1616" stroke="#00f" stroke-width="1" stroke-dasharray="3 3" shape-rendering="crispEdges"/>
<path d="M3 341.5H1616" stroke="#00f" stroke-width="1" stroke-dasharray="3 3" shape-rendering="crispEdges"/>
<path d="M3 361.5H1616" stroke="#00f" stroke-width="1" stroke-dasharray="3 3" shape-rendering="crispEdges"/>
<path d="M3 399.5H1616" stroke="#00f" stroke-width="1" stroke-dasharray="3 3" shape-rendering="crispEdges"/>
<path d="M3 460.5H1616" stroke="#00f" stroke-width="1" stroke-dasharray="3 3" shape-rendering="crispEdges"/>
<path d="M3 504.5H1616" stroke="#00f" stroke-width="1" stroke-dasharray="3 3" shape-rendering="crispEdges"/>
<path d="M3 570.5H1616" stroke="#00f" stroke-width="1" stroke-dasharray="18 6" shape-rendering="crispEdges"/>
<path d="M3 647.5H1616" stroke="#00f" stroke-width="1" stroke-dasharray="3 3" shape-rendering="crispEdges"/>
<text x="674" y="626" font-size="14" letter-spacing="0.15" fill="#800080">144 Periyotluk Envelopes</text>
</g>
<path d="M6 9h7l-3.5 4z" fill="#000"/>
<text transform="translate(18 14) scale(0.965 1)" font-size="10" fill="#000" stroke="#000" stroke-width="0.18">EURUSD,Daily</text><text transform="translate(88.2 14) scale(0.927 1)" font-size="10" fill="#000" stroke="#000" stroke-width="0.18">1.16852 1.17059 1.15811 1.15967</text>
<g fill="#000" shape-rendering="crispEdges"><rect x="2" y="2" width="1615" height="1"/><rect x="2" y="2" width="1" height="655"/><rect x="2" y="656" width="1615" height="1"/><rect x="1616" y="2" width="1" height="655"/><rect x="1615" y="118" width="3" height="233"/></g>
<rect x="1617" y="26" width="2" height="1" fill="#000" shape-rendering="crispEdges"/><rect x="1617" y="59" width="2" height="1" fill="#000" shape-rendering="crispEdges"/><text transform="translate(1622 63) scale(0.927 1)" font-size="10" fill="#000" stroke="#000" stroke-width="0.18">1.20186</text>
<rect x="1617" y="92" width="2" height="1" fill="#000" shape-rendering="crispEdges"/><text transform="translate(1622 96) scale(0.927 1)" font-size="10" fill="#000" stroke="#000" stroke-width="0.18">1.19586</text>
<rect x="1617" y="125" width="2" height="1" fill="#000" shape-rendering="crispEdges"/><text transform="translate(1622 129) scale(0.927 1)" font-size="10" fill="#000" stroke="#000" stroke-width="0.18">1.18986</text>
<rect x="1617" y="158" width="2" height="1" fill="#000" shape-rendering="crispEdges"/><text transform="translate(1622 162) scale(0.927 1)" font-size="10" fill="#000" stroke="#000" stroke-width="0.18">1.18386</text>
<rect x="1617" y="191" width="2" height="1" fill="#000" shape-rendering="crispEdges"/><text transform="translate(1622 195) scale(0.927 1)" font-size="10" fill="#000" stroke="#000" stroke-width="0.18">1.17786</text>
<rect x="1617" y="224" width="2" height="1" fill="#000" shape-rendering="crispEdges"/><text transform="translate(1622 228) scale(0.927 1)" font-size="10" fill="#000" stroke="#000" stroke-width="0.18">1.17186</text>
<rect x="1617" y="257" width="2" height="1" fill="#000" shape-rendering="crispEdges"/><text transform="translate(1622 261) scale(0.927 1)" font-size="10" fill="#000" stroke="#000" stroke-width="0.18">1.16586</text>
<rect x="1617" y="290" width="2" height="1" fill="#000" shape-rendering="crispEdges"/><text transform="translate(1622 294) scale(0.927 1)" font-size="10" fill="#000" stroke="#000" stroke-width="0.18">1.15986</text>
<rect x="1617" y="323" width="2" height="1" fill="#000" shape-rendering="crispEdges"/><text transform="translate(1622 327) scale(0.927 1)" font-size="10" fill="#000" stroke="#000" stroke-width="0.18">1.15386</text>
<rect x="1617" y="356" width="2" height="1" fill="#000" shape-rendering="crispEdges"/><text transform="translate(1622 360) scale(0.927 1)" font-size="10" fill="#000" stroke="#000" stroke-width="0.18">1.14786</text>
<rect x="1617" y="389" width="2" height="1" fill="#000" shape-rendering="crispEdges"/><text transform="translate(1622 393) scale(0.927 1)" font-size="10" fill="#000" stroke="#000" stroke-width="0.18">1.14186</text>
<rect x="1617" y="422" width="2" height="1" fill="#000" shape-rendering="crispEdges"/><text transform="translate(1622 426) scale(0.927 1)" font-size="10" fill="#000" stroke="#000" stroke-width="0.18">1.13586</text>
<rect x="1617" y="455" width="2" height="1" fill="#000" shape-rendering="crispEdges"/><text transform="translate(1622 459) scale(0.927 1)" font-size="10" fill="#000" stroke="#000" stroke-width="0.18">1.12986</text>
<rect x="1617" y="487" width="2" height="1" fill="#000" shape-rendering="crispEdges"/><text transform="translate(1622 491) scale(0.927 1)" font-size="10" fill="#000" stroke="#000" stroke-width="0.18">1.12386</text>
<rect x="1617" y="520" width="2" height="1" fill="#000" shape-rendering="crispEdges"/><text transform="translate(1622 524) scale(0.927 1)" font-size="10" fill="#000" stroke="#000" stroke-width="0.18">1.11786</text>
<rect x="1617" y="553" width="2" height="1" fill="#000" shape-rendering="crispEdges"/><text transform="translate(1622 557) scale(0.927 1)" font-size="10" fill="#000" stroke="#000" stroke-width="0.18">1.11186</text>
<rect x="1617" y="586" width="2" height="1" fill="#000" shape-rendering="crispEdges"/><text transform="translate(1622 590) scale(0.927 1)" font-size="10" fill="#000" stroke="#000" stroke-width="0.18">1.10586</text>
<rect x="1617" y="619" width="2" height="1" fill="#000" shape-rendering="crispEdges"/><text transform="translate(1622 623) scale(0.927 1)" font-size="10" fill="#000" stroke="#000" stroke-width="0.18">1.09986</text>
<rect x="1617" y="652" width="2" height="1" fill="#000" shape-rendering="crispEdges"/><text transform="translate(1622 656) scale(0.927 1)" font-size="10" fill="#000" stroke="#000" stroke-width="0.18">1.09386</text>
<rect x="1618" y="23" width="41" height="11" fill="#00f"/><text transform="translate(1622 32) scale(0.927 1)" font-size="10" fill="#fff" stroke="#fff" stroke-width="0.18">1.20750</text>
<rect x="1618" y="66" width="41" height="11" fill="#00f"/><text transform="translate(1622 75) scale(0.927 1)" font-size="10" fill="#fff" stroke="#fff" stroke-width="0.18">1.19950</text>
<rect x="1618" y="105" width="41" height="11" fill="#00f"/><text transform="translate(1622 114) scale(0.927 1)" font-size="10" fill="#fff" stroke="#fff" stroke-width="0.18">1.19250</text>
<rect x="1618" y="160" width="41" height="11" fill="#00f"/><text transform="translate(1622 169) scale(0.927 1)" font-size="10" fill="#fff" stroke="#fff" stroke-width="0.18">1.18250</text>
<rect x="1618" y="204" width="41" height="11" fill="#00f"/><text transform="translate(1622 213) scale(0.927 1)" font-size="10" fill="#fff" stroke="#fff" stroke-width="0.18">1.17450</text>
<rect x="1618" y="237" width="41" height="11" fill="#00f"/><text transform="translate(1622 246) scale(0.927 1)" font-size="10" fill="#fff" stroke="#fff" stroke-width="0.18">1.16850</text>
<rect x="1618" y="264" width="41" height="11" fill="#00f"/><text transform="translate(1622 273) scale(0.927 1)" font-size="10" fill="#fff" stroke="#fff" stroke-width="0.18">1.16350</text>
<rect x="1618" y="297" width="41" height="11" fill="#00f"/><text transform="translate(1622 306) scale(0.927 1)" font-size="10" fill="#fff" stroke="#fff" stroke-width="0.18">1.15750</text>
<rect x="1618" y="335" width="41" height="11" fill="#00f"/><text transform="translate(1622 344) scale(0.927 1)" font-size="10" fill="#fff" stroke="#fff" stroke-width="0.18">1.15060</text>
<rect x="1618" y="355" width="41" height="11" fill="#00f"/><text transform="translate(1622 364) scale(0.927 1)" font-size="10" fill="#fff" stroke="#fff" stroke-width="0.18">1.14700</text>
<rect x="1618" y="393" width="41" height="11" fill="#00f"/><text transform="translate(1622 402) scale(0.927 1)" font-size="10" fill="#fff" stroke="#fff" stroke-width="0.18">1.14000</text>
<rect x="1618" y="454" width="41" height="11" fill="#00f"/><text transform="translate(1622 463) scale(0.927 1)" font-size="10" fill="#fff" stroke="#fff" stroke-width="0.18">1.12900</text>
<rect x="1618" y="498" width="41" height="11" fill="#00f"/><text transform="translate(1622 507) scale(0.927 1)" font-size="10" fill="#fff" stroke="#fff" stroke-width="0.18">1.12100</text>
<rect x="1618" y="564" width="41" height="11" fill="#00f"/><text transform="translate(1622 573) scale(0.927 1)" font-size="10" fill="#fff" stroke="#fff" stroke-width="0.18">1.10900</text>
<rect x="1618" y="641" width="41" height="11" fill="#00f"/><text transform="translate(1622 650) scale(0.927 1)" font-size="10" fill="#fff" stroke="#fff" stroke-width="0.18">1.09500</text>
<rect x="1618" y="286" width="41" height="11" fill="#000"/><text transform="translate(1622 295) scale(0.927 1)" font-size="10" fill="#fff" stroke="#fff" stroke-width="0.18">1.15967</text>
<rect x="3" y="657" width="1" height="3" fill="#000" shape-rendering="crispEdges"/><text transform="translate(2 669) scale(0.927 1)" font-size="10" fill="#000" stroke="#000" stroke-width="0.18">18 Jul 2025</text>
<rect x="67" y="657" width="1" height="3" fill="#000" shape-rendering="crispEdges"/><text transform="translate(66 669) scale(0.927 1)" font-size="10" fill="#000" stroke="#000" stroke-width="0.18">30 Jul 2025</text>
<rect x="131" y="657" width="1" height="3" fill="#000" shape-rendering="crispEdges"/><text transform="translate(130 669) scale(0.927 1)" font-size="10" fill="#000" stroke="#000" stroke-width="0.18">11 Aug 2025</text>
<rect x="195" y="657" width="1" height="3" fill="#000" shape-rendering="crispEdges"/><text transform="translate(194 669) scale(0.927 1)" font-size="10" fill="#000" stroke="#000" stroke-width="0.18">21 Aug 2025</text>
<rect x="259" y="657" width="1" height="3" fill="#000" shape-rendering="crispEdges"/><text transform="translate(258 669) scale(0.927 1)" font-size="10" fill="#000" stroke="#000" stroke-width="0.18">2 Sep 2025</text>
<rect x="323" y="657" width="1" height="3" fill="#000" shape-rendering="crispEdges"/><text transform="translate(322 669) scale(0.927 1)" font-size="10" fill="#000" stroke="#000" stroke-width="0.18">12 Sep 2025</text>
<rect x="387" y="657" width="1" height="3" fill="#000" shape-rendering="crispEdges"/><text transform="translate(386 669) scale(0.927 1)" font-size="10" fill="#000" stroke="#000" stroke-width="0.18">24 Sep 2025</text>
<rect x="451" y="657" width="1" height="3" fill="#000" shape-rendering="crispEdges"/><text transform="translate(450 669) scale(0.927 1)" font-size="10" fill="#000" stroke="#000" stroke-width="0.18">6 Oct 2025</text>
<rect x="515" y="657" width="1" height="3" fill="#000" shape-rendering="crispEdges"/><text transform="translate(514 669) scale(0.927 1)" font-size="10" fill="#000" stroke="#000" stroke-width="0.18">16 Oct 2025</text>
<rect x="579" y="657" width="1" height="3" fill="#000" shape-rendering="crispEdges"/><text transform="translate(578 669) scale(0.927 1)" font-size="10" fill="#000" stroke="#000" stroke-width="0.18">28 Oct 2025</text>
<rect x="643" y="657" width="1" height="3" fill="#000" shape-rendering="crispEdges"/><text transform="translate(642 669) scale(0.927 1)" font-size="10" fill="#000" stroke="#000" stroke-width="0.18">7 Nov 2025</text>
<rect x="707" y="657" width="1" height="3" fill="#000" shape-rendering="crispEdges"/><text transform="translate(706 669) scale(0.927 1)" font-size="10" fill="#000" stroke="#000" stroke-width="0.18">19 Nov 2025</text>
<rect x="771" y="657" width="1" height="3" fill="#000" shape-rendering="crispEdges"/><text transform="translate(770 669) scale(0.927 1)" font-size="10" fill="#000" stroke="#000" stroke-width="0.18">1 Dec 2025</text>
<rect x="835" y="657" width="1" height="3" fill="#000" shape-rendering="crispEdges"/><text transform="translate(834 669) scale(0.927 1)" font-size="10" fill="#000" stroke="#000" stroke-width="0.18">11 Dec 2025</text>
<rect x="899" y="657" width="1" height="3" fill="#000" shape-rendering="crispEdges"/><text transform="translate(898 669) scale(0.927 1)" font-size="10" fill="#000" stroke="#000" stroke-width="0.18">23 Dec 2025</text>
<rect x="963" y="657" width="1" height="3" fill="#000" shape-rendering="crispEdges"/><text transform="translate(962 669) scale(0.927 1)" font-size="10" fill="#000" stroke="#000" stroke-width="0.18">6 Jan 2026</text>
<rect x="1027" y="657" width="1" height="3" fill="#000" shape-rendering="crispEdges"/><text transform="translate(1026 669) scale(0.927 1)" font-size="10" fill="#000" stroke="#000" stroke-width="0.18">16 Jan 2026</text>
<rect x="1091" y="657" width="1" height="3" fill="#000" shape-rendering="crispEdges"/><text transform="translate(1090 669) scale(0.927 1)" font-size="10" fill="#000" stroke="#000" stroke-width="0.18">28 Jan 2026</text>
<rect x="1155" y="657" width="1" height="3" fill="#000" shape-rendering="crispEdges"/><text transform="translate(1154 669) scale(0.927 1)" font-size="10" fill="#000" stroke="#000" stroke-width="0.18">9 Feb 2026</text>
<rect x="1219" y="657" width="1" height="3" fill="#000" shape-rendering="crispEdges"/><text transform="translate(1218 669) scale(0.927 1)" font-size="10" fill="#000" stroke="#000" stroke-width="0.18">19 Feb 2026</text>
<rect x="1283" y="657" width="1" height="3" fill="#000" shape-rendering="crispEdges"/><text transform="translate(1282 669) scale(0.927 1)" font-size="10" fill="#000" stroke="#000" stroke-width="0.18">3 Mar 2026</text>
</svg>
</body></html>
